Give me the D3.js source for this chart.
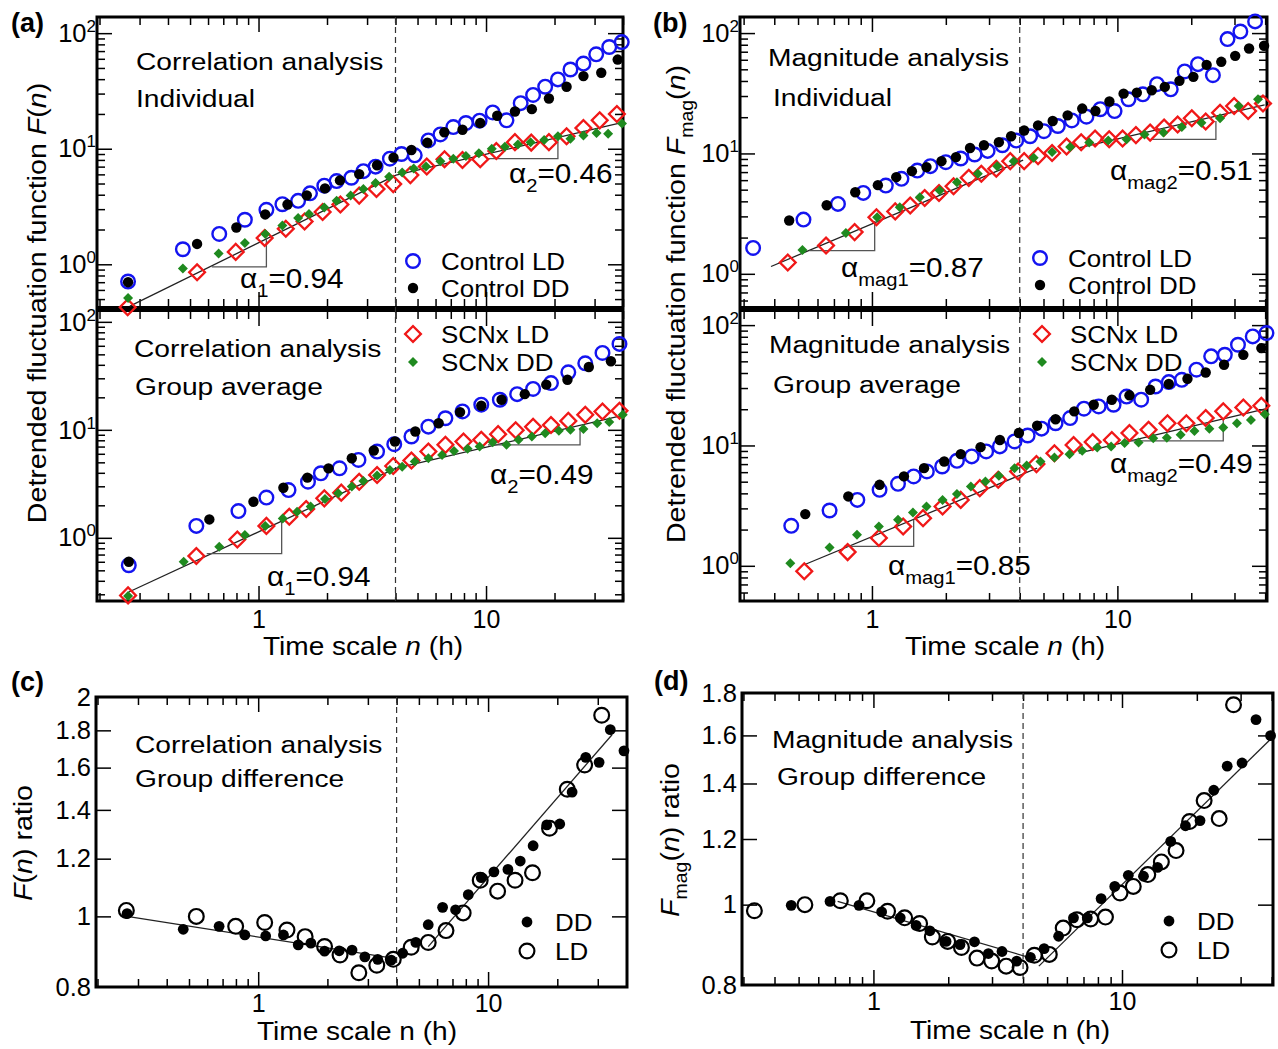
<!DOCTYPE html>
<html>
<head>
<meta charset="utf-8">
<title>DFA panels</title>
<script src="https://d3js.org/d3.v7.min.js"></script>
<style>
  html, body { margin: 0; background: white; }
  svg { display: block; }
</style>
</head>
<body>
<svg id="svg"></svg>
<script>
// ---------- data: [n (h), value] ----------
const aTopCtrlLD = [[0.267,0.71],[0.465,1.35],[0.672,1.83],[0.871,2.43],[1.083,2.96],[1.273,3.31],[1.493,3.54],[1.684,4.11],[1.946,4.79],[2.204,5.25],[2.56,5.61],[2.89,6.4],[3.27,7.0],[3.78,8.2],[4.25,9.0],[4.86,8.77],[5.58,11.8],[6.3,13.3],[7.18,15.4],[8.16,16.7],[9.37,17.5],[10.7,20.6],[12.3,17.6],[14.2,24.8],[16.1,29.2],[18.2,34.4],[20.7,39.8],[23.5,48.5],[26.8,54.6],[30.5,65.6],[34.8,75.9],[39.5,83.7]];
const aTopCtrlDD = [[0.267,0.70],[0.537,1.50],[0.799,2.08],[1.07,2.70],[1.341,3.29],[1.63,3.95],[1.96,4.54],[2.28,5.32],[2.77,6.03],[3.32,7.2],[3.92,8.37],[4.7,9.75],[5.52,11.3],[6.56,13.9],[7.88,14.6],[9.43,16.7],[11.2,19.3],[13.4,21.0],[15.9,22.0],[18.9,27.2],[22.6,34.4],[26.8,42.5],[32.1,45.4],[37.9,59.1]];
const aTopScnLD = [[0.266,0.425],[0.537,0.854],[0.794,1.28],[1.064,1.69],[1.318,2.03],[1.594,2.35],[1.913,2.83],[2.29,3.29],[2.77,3.93],[3.3,4.48],[3.91,4.94],[4.65,5.91],[5.49,7.01],[6.57,8.11],[7.88,8.0],[9.43,8.11],[11.1,9.55],[13.4,11.4],[15.8,11.3],[18.9,11.4],[22.6,12.8],[26.8,15.1],[31.6,17.6],[37.6,20.0]];
const aTopScnDD = [[0.267,0.51],[0.465,0.92],[0.668,1.24],[0.871,1.53],[1.071,1.83],[1.273,2.17],[1.493,2.51],[1.667,2.72],[1.946,3.1],[2.204,3.54],[2.54,3.93],[2.89,4.48],[3.27,5.04],[3.75,5.71],[4.28,6.22],[4.81,6.74],[5.45,7.01],[6.3,7.79],[7.18,8.21],[8.16,8.65],[9.3,9.12],[10.6,10.0],[12.1,10.4],[13.8,10.9],[15.7,11.4],[18.0,11.9],[20.7,12.8],[23.5,12.2],[26.8,13.0],[30.6,13.7],[34.4,13.5],[39.6,16.5]];

const aBotCtrlLD = [[0.269,0.557],[0.533,1.29],[0.816,1.77],[1.083,2.36],[1.355,2.77],[1.65,3.31],[1.88,3.96],[2.27,4.4],[2.75,5.26],[3.32,6.29],[3.95,7.36],[4.7,8.67],[5.58,10.7],[6.63,12.8],[7.88,14.8],[9.53,17.1],[11.5,19.0],[13.7,21.4],[16.1,23.9],[19.3,27.1],[23.0,34.1],[27.3,41.3],[32.5,51.5],[38.6,62.5]];
const aBotCtrlDD = [[0.269,0.60],[0.608,1.48],[0.95,2.16],[1.286,2.91],[1.64,3.61],[2.03,4.4],[2.57,5.46],[3.21,6.43],[3.98,7.8],[4.89,9.65],[6.19,11.5],[7.69,14.6],[9.53,16.7],[11.7,19.0],[14.8,21.4],[18.4,26.2],[22.8,29.1],[28.3,38.2],[35.4,43.2]];
const aBotScnLD = [[0.267,0.293],[0.533,0.68],[0.807,0.965],[1.083,1.29],[1.365,1.57],[1.62,1.85],[1.946,2.32],[2.31,2.62],[2.77,3.31],[3.32,3.82],[3.91,4.63],[4.7,5.19],[5.58,6.29],[6.63,7.26],[7.96,7.8],[9.53,8.08],[11.3,9.12],[13.5,9.93],[16.1,10.7],[19.3,11.1],[23.0,12.1],[27.3,13.8],[32.5,14.8],[38.6,15.0]];
const aBotScnDD = [[0.267,0.289],[0.469,0.60],[0.672,0.825],[0.871,1.06],[1.071,1.29],[1.278,1.51],[1.477,1.74],[1.695,1.95],[1.96,2.29],[2.24,2.58],[2.57,2.98],[2.89,3.36],[3.32,3.77],[3.78,4.25],[4.28,4.56],[4.86,5.08],[5.58,5.46],[6.41,5.86],[7.23,6.38],[8.3,6.67],[9.37,7.0],[10.7,7.68],[12.3,7.26],[13.9,8.08],[15.9,8.67],[18.2,9.31],[20.9,9.79],[23.5,10.0],[26.8,10.2],[30.8,11.5],[34.8,11.8],[39.9,13.8]];

const bTopCtrlLD = [[0.328,1.64],[0.526,2.82],[0.727,3.81],[0.922,4.7],[1.139,5.41],[1.319,6.15],[1.53,7.21],[1.73,7.84],[2.0,8.46],[2.3,9.08],[2.62,9.8],[2.96,10.5],[3.4,11.7],[3.87,12.8],[4.41,13.9],[5.02,15.3],[5.72,16.9],[6.52,18.8],[7.48,20.2],[8.52,23.3],[9.74,22.5],[11.1,28.2],[12.7,31.0],[14.5,37.6],[16.5,34.1],[18.8,48.0],[21.3,55.2],[24.5,44.7],[28.1,89.1],[31.7,103],[36.4,125]];
const bTopCtrlDD = [[0.46,2.77],[0.654,3.71],[0.855,4.76],[1.057,5.45],[1.256,6.35],[1.455,7.13],[1.668,7.7],[1.92,8.63],[2.2,9.32],[2.51,11.1],[2.86,11.7],[3.29,12.4],[3.69,13.9],[4.17,15.5],[4.75,17.1],[5.45,18.6],[6.27,20.7],[7.19,23.6],[8.14,22.5],[9.28,27.0],[10.6,31.4],[12.0,32.0],[13.8,33.5],[15.6,35.7],[17.9,40.1],[20.4,43.3],[23.1,54.4],[26.5,57.7],[30.2,64.7],[34.4,74.5],[39.6,78.4]];
const bTopScnLD = [[0.454,1.24],[0.65,1.72],[0.85,2.22],[1.043,2.95],[1.244,3.3],[1.432,3.69],[1.64,4.27],[1.876,4.7],[2.15,5.34],[2.48,6.27],[2.79,6.77],[3.21,7.45],[3.66,8.63],[4.17,8.63],[4.75,9.5],[5.42,10.1],[6.21,11.4],[7.12,12.4],[8.11,13.3],[9.26,13.1],[10.5,13.3],[11.9,14.2],[13.6,14.9],[15.5,16.4],[17.6,17.4],[20.1,19.6],[22.9,18.4],[26.2,21.8],[29.9,24.8],[34.1,22.5],[39.2,26.0]];
const bTopScnDD = [[0.521,1.58],[0.783,2.18],[1.05,2.95],[1.298,3.57],[1.567,4.33],[1.888,4.92],[2.22,5.77],[2.7,6.77],[3.24,7.84],[3.78,8.63],[4.56,9.2],[5.42,10.3],[6.42,11.3],[7.68,12.3],[9.18,12.8],[10.9,13.1],[12.9,14.4],[15.4,14.9],[18.3,16.6],[22.0,18.0],[26.2,19.6],[31.2,24.8],[37.4,28.2]];

const bBotCtrlLD = [[0.469,2.15],[0.672,2.88],[0.872,3.53],[1.074,4.28],[1.277,4.8],[1.479,5.53],[1.674,6.08],[1.932,6.69],[2.22,7.46],[2.55,8.11],[2.92,8.92],[3.32,9.82],[3.81,10.8],[4.31,12.1],[4.91,13.8],[5.6,15.3],[6.42,16.9],[7.31,20.2],[8.39,21.1],[9.65,21.8],[10.9,25.5],[12.5,24.0],[14.3,30.9],[16.2,33.6],[18.3,35.1],[21.0,42.6],[24.1,55.0],[27.4,56.7],[31.0,68.7],[35.6,80.6],[40.5,85.9]];
const bBotCtrlDD = [[0.535,2.69],[0.801,3.77],[1.074,4.71],[1.35,5.53],[1.63,6.48],[1.97,7.36],[2.3,8.47],[2.77,9.68],[3.32,11.1],[3.97,12.7],[4.71,14.6],[5.6,16.5],[6.67,19.2],[8.01,21.8],[9.49,24.0],[11.2,26.1],[13.6,29.0],[16.2,32.4],[19.3,35.8],[22.9,40.4],[27.2,46.8],[32.6,56.6],[38.6,64.4]];
const bBotScnLD = [[0.53,0.90],[0.796,1.3],[1.067,1.7],[1.34,2.12],[1.615,2.49],[1.94,3.11],[2.3,3.53],[2.75,4.42],[3.27,5.19],[3.94,6.08],[4.68,7.0],[5.54,8.63],[6.63,10.1],[7.93,10.7],[9.49,11.1],[11.2,12.7],[13.4,13.5],[16.0,15.3],[19.1,15.3],[22.9,16.9],[27.0,19.2],[32.6,20.7],[38.6,21.4]];
const bBotScnDD = [[0.465,1.05],[0.672,1.42],[0.869,1.81],[1.067,2.12],[1.277,2.41],[1.469,2.77],[1.668,3.11],[1.94,3.53],[2.22,3.96],[2.53,4.56],[2.9,5.02],[3.29,5.6],[3.81,6.48],[4.27,6.82],[4.86,7.36],[5.54,7.94],[6.38,8.47],[7.19,9.03],[8.28,9.62],[9.43,9.82],[10.7,10.5],[12.2,10.6],[14.0,11.5],[15.9,11.6],[18.1,12.3],[20.6,13.2],[23.7,13.8],[27.0,14.1],[30.7,15.3],[35.0,16.3],[39.9,18.2]];

const cDD = [[0.269,1.009],[0.472,0.960],[0.676,0.969],[0.875,0.943],[1.078,0.940],[1.288,0.943],[1.493,0.914],[1.695,0.919],[1.944,0.896],[2.25,0.897],[2.56,0.899],[2.91,0.880],[3.31,0.873],[3.79,0.871],[4.25,0.890],[4.85,0.921],[5.49,0.974],[6.34,1.029],[7.22,1.021],[8.2,1.071],[9.34,1.130],[10.6,1.151],[12.2,1.160],[13.8,1.191],[15.7,1.250],[18.0,1.335],[20.5,1.339],[23.2,1.481],[26.6,1.653],[30.4,1.627],[34.0,1.804],[39.0,1.687]];
const cLD = [[0.267,1.019],[0.538,1.000],[0.798,0.969],[1.067,0.981],[1.334,0.958],[1.6,0.938],[1.944,0.909],[2.27,0.885],[2.74,0.837],[3.28,0.857],[3.87,0.873],[4.63,0.907],[5.49,0.921],[6.56,0.956],[7.79,1.011],[9.24,1.121],[11.0,1.083],[13.1,1.121],[15.6,1.148],[18.5,1.321],[22.1,1.494],[26.3,1.613],[31.2,1.888]];
const dDD = [[0.467,0.998],[0.669,1.009],[0.875,0.998],[1.079,0.980],[1.282,0.964],[1.485,0.944],[1.687,0.930],[1.96,0.903],[2.23,0.895],[2.55,0.902],[2.9,0.873],[3.29,0.878],[3.77,0.855],[4.28,0.864],[4.86,0.885],[5.56,0.916],[6.38,0.964],[7.25,0.964],[8.24,1.017],[9.35,1.052],[10.6,1.085],[12.2,1.082],[13.9,1.109],[15.7,1.192],[18.0,1.245],[20.6,1.263],[23.4,1.374],[26.5,1.469],[30.4,1.482],[34.6,1.672],[39.6,1.599]];
const dLD = [[0.332,0.983],[0.53,1.0],[0.736,1.011],[0.941,1.011],[1.14,0.982],[1.336,0.964],[1.534,0.949],[1.726,0.914],[1.99,0.903],[2.26,0.888],[2.61,0.862],[2.99,0.855],[3.42,0.843],[3.89,0.840],[4.44,0.869],[5.1,0.871],[5.8,0.937],[6.59,0.959],[7.48,0.961],[8.58,0.966],[9.82,1.033],[11.1,1.052],[12.7,1.087],[14.4,1.126],[16.5,1.162],[18.7,1.260],[21.4,1.335],[24.6,1.270],[28.1,1.742]];

// fitted power-law segments (end points) and slope triangles
const aTopFits = [[[0.272,0.434],[4.02,5.91]], [[4.02,5.91],[39.9,16.9]]];
const aTopTris = [[[0.623,0.95],[1.083,0.95],[1.083,1.66]], [[10.2,8.2],[20.7,8.2],[20.7,12.6]]];
const aBotFits = [[[0.269,0.315],[4.0,4.4]], [[4.0,4.4],[39.9,13.6]]];
const aBotTris = [[[0.592,0.715],[1.264,0.715],[1.264,1.51]], [[10.2,7.26],[25.9,7.26],[25.9,10.4]]];
const bTopFits = [[[0.388,1.15],[4.13,8.8]], [[6.96,11.1],[39.8,25.3]]];
const bTopTris = [[[0.556,1.56],[1.026,1.56],[1.026,2.75]], [[13.8,13.1],[25.2,13.1],[25.2,18.6]]];
const bBotFits = [[[0.53,1.02],[4.71,6.48]], [[6.96,8.63],[40.5,20.2]]];
const bBotTris = [[[0.77,1.45],[1.479,1.45],[1.479,2.41]], [[10.5,10.9],[27.0,10.9],[27.0,16.3]]];
const cFits = [[[0.269,1.0],[3.9,0.876]], [[5.49,0.909],[34.6,1.775]]];
const dFits = [[[0.718,1.009],[4.56,0.858]], [[4.63,0.843],[39.3,1.58]]];

const crossover = 4;              // dashed line, hours
const xLabelTicks = [1, 10];
const decadeTicks = [1, 10, 100];
const cRatioTicks = [0.8, 1, 1.2, 1.4, 1.6, 1.8, 2];
const dRatioTicks = [0.8, 1, 1.2, 1.4, 1.6, 1.8];

// ---------- drawing ----------
const FONT = "Liberation Sans, Arial, Helvetica, sans-serif";
const BLUE = "#1414f0", RED = "#f01818", GREEN = "#1f8a1f";

const svg = d3.select("#svg")
  .attr("width", 1278)
  .attr("height", 1049)
  .attr("font-family", FONT);

svg.append("rect").attr("width", 1278).attr("height", 1049).attr("fill", "white");

function rich(x, y, parts, o = {}) {
  const size = o.size || 25;
  const tf = `translate(${x},${y})` + (o.rot ? ` rotate(${o.rot})` : "") + ` scale(${o.sx || 1},1)`;
  const t = svg.append("text")
    .attr("transform", tf)
    .attr("font-size", size)
    .attr("text-anchor", o.anchor || "start")
    .attr("font-weight", o.bold ? "bold" : null)
    .attr("fill", "#000");
  let shift = 0;
  parts.forEach(p => {
    if (typeof p === "string") p = {t: p};
    const s = t.append("tspan").text(p.t);
    const want = p.sub ? size * 0.32 : 0;
    if (want !== shift) { s.attr("dy", want - shift); shift = want; }
    if (p.sub) s.attr("font-size", size * 0.68);
    if (p.it) s.attr("font-style", "italic");
  });
  return t;
}

const isDecade = v => Math.abs(Math.log10(v) - Math.round(Math.log10(v))) < 1e-9;

function tickSet(g, fn, scale, vals, len, tr) {
  const a = g.append("g").attr("transform", tr)
    .call(fn(scale).tickValues(vals).tickSize(-len).tickFormat(""));
  a.select(".domain").remove();
  a.selectAll(".tick line").attr("stroke", "#000").attr("stroke-width", 1.5);
}

function frameTicks(g, x, y, box, yMajorList) {
  const xt = x.ticks();
  const xMaj = xt.filter(isDecade), xMin = xt.filter(v => !isDecade(v));
  let yMaj, yMin;
  if (yMajorList) { yMaj = yMajorList; yMin = []; }
  else { const yt = y.ticks(); yMaj = yt.filter(isDecade); yMin = yt.filter(v => !isDecade(v)); }
  [[xMaj, 15], [xMin, 8]].forEach(([v, l]) => {
    tickSet(g, d3.axisBottom, x, v, l, `translate(0,${box.b})`);
    tickSet(g, d3.axisTop, x, v, l, `translate(0,${box.t})`);
  });
  [[yMaj, 15], [yMin, 8]].forEach(([v, l]) => {
    tickSet(g, d3.axisLeft, y, v, l, `translate(${box.l},0)`);
    tickSet(g, d3.axisRight, y, v, l, `translate(${box.r},0)`);
  });
}

function xLabels(g, x, box, pad) {
  const a = g.append("g").attr("transform", `translate(0,${box.b})`)
    .call(d3.axisBottom(x).tickValues(xLabelTicks).tickSize(0).tickPadding(pad).tickFormat(d3.format("~g")));
  a.select(".domain").remove();
  a.attr("font-size", 25).attr("font-family", FONT);
}

function yPowLabels(g, y, box) {
  const vals = decadeTicks.filter(v => v >= y.domain()[0] && v <= y.domain()[1]);
  const a = g.append("g").attr("transform", `translate(${box.l},0)`)
    .call(d3.axisLeft(y).tickValues(vals).tickSize(0).tickPadding(1).tickFormat(() => "10"));
  a.select(".domain").remove();
  a.attr("font-size", 25.5).attr("font-family", FONT);
  a.selectAll(".tick text").append("tspan")
    .attr("dy", -10).attr("font-size", 17)
    .text(d => Math.round(Math.log10(d)));
}

function yRatioLabels(g, y, box, vals) {
  const a = g.append("g").attr("transform", `translate(${box.l},0)`)
    .call(d3.axisLeft(y).tickValues(vals).tickSize(0).tickPadding(5).tickFormat(d3.format("~g")));
  a.select(".domain").remove();
  a.attr("font-size", 25.5).attr("font-family", FONT);
}

function lineSegs(g, segs, x, y, color, w) {
  const line = d3.line().x(d => x(d[0])).y(d => y(d[1]));
  g.append("g").selectAll("path").data(segs).join("path")
    .attr("d", line).attr("fill", "none").attr("stroke", color).attr("stroke-width", w);
}

function openCircles(g, data, x, y, color, r, w) {
  g.append("g").selectAll("circle").data(data).join("circle")
    .attr("cx", d => x(d[0])).attr("cy", d => y(d[1])).attr("r", r)
    .attr("fill", "none").attr("stroke", color).attr("stroke-width", w);
}
function dots(g, data, x, y, color, r) {
  g.append("g").selectAll("circle").data(data).join("circle")
    .attr("cx", d => x(d[0])).attr("cy", d => y(d[1])).attr("r", r).attr("fill", color);
}
function diamonds(g, data, x, y, size, fill, stroke, w) {
  const sym = d3.symbol(d3.symbolSquare, size);
  g.append("g").selectAll("path").data(data).join("path")
    .attr("d", sym)
    .attr("transform", d => `translate(${x(d[0])},${y(d[1])}) rotate(45)`)
    .attr("fill", fill).attr("stroke", stroke).attr("stroke-width", w);
}

const MK = {ldR: 6.8, ldW: 2.4, ddR: 5.2, scnLD: 125, scnDD: 50};

function fourSeries(g, x, y, s) {
  diamonds(g, s.scnLD, x, y, MK.scnLD, "none", RED, 2.3);
  diamonds(g, s.scnDD, x, y, MK.scnDD, GREEN, "none", 0);
  openCircles(g, s.ctrlLD, x, y, BLUE, MK.ldR, MK.ldW);
  dots(g, s.ctrlDD, x, y, "#000", MK.ddR);
}

// ----- (a)/(b) double panels -----
function doublePanel(o) {
  const g = svg.append("g");
  const x = d3.scaleLog().domain(o.xDom).range([o.l, o.r]);
  const yT = d3.scaleLog().domain(o.yTopDom).range([307, 17]);
  const yB = d3.scaleLog().domain(o.yBotDom).range([601, 311]);
  const boxT = {l: o.l, r: o.r, t: 17, b: 307};
  const boxB = {l: o.l, r: o.r, t: 311, b: 601};
  frameTicks(g, x, yT, boxT);
  frameTicks(g, x, yB, boxB);
  g.append("rect").attr("x", o.l).attr("y", 17).attr("width", o.r - o.l).attr("height", 584)
    .attr("fill", "none").attr("stroke", "#000").attr("stroke-width", 3);
  g.append("line").attr("x1", o.l).attr("x2", o.r).attr("y1", 309).attr("y2", 309)
    .attr("stroke", "#000").attr("stroke-width", 6);
  g.append("line").attr("x1", x(crossover)).attr("x2", x(crossover)).attr("y1", 17).attr("y2", 601)
    .attr("stroke", "#333").attr("stroke-width", 1.2).attr("stroke-dasharray", "6,4");
  xLabels(g, x, boxB, 9);
  yPowLabels(g, yT, boxT);
  yPowLabels(g, yB, boxB);
  lineSegs(g, o.topFits, x, yT, "#222", 1.3);
  lineSegs(g, o.topTris, x, yT, "#555", 1.3);
  lineSegs(g, o.botFits, x, yB, "#222", 1.3);
  lineSegs(g, o.botTris, x, yB, "#555", 1.3);
  fourSeries(g, x, yT, o.top);
  fourSeries(g, x, yB, o.bot);
}

doublePanel({
  l: 97, r: 623, xDom: [0.195, 40], yTopDom: [0.427, 138], yBotDom: [0.26, 126],
  top: {ctrlLD: aTopCtrlLD, ctrlDD: aTopCtrlDD, scnLD: aTopScnLD, scnDD: aTopScnDD},
  bot: {ctrlLD: aBotCtrlLD, ctrlDD: aBotCtrlDD, scnLD: aBotScnLD, scnDD: aBotScnDD},
  topFits: aTopFits, topTris: aTopTris, botFits: aBotFits, botTris: aBotTris
});
doublePanel({
  l: 740, r: 1267, xDom: [0.29, 40.7], yTopDom: [0.53, 136], yBotDom: [0.51, 131],
  top: {ctrlLD: bTopCtrlLD, ctrlDD: bTopCtrlDD, scnLD: bTopScnLD, scnDD: bTopScnDD},
  bot: {ctrlLD: bBotCtrlLD, ctrlDD: bBotCtrlDD, scnLD: bBotScnLD, scnDD: bBotScnDD},
  topFits: bTopFits, topTris: bTopTris, botFits: bBotFits, botTris: bBotTris
});

// ----- (c)/(d) ratio panels -----
function ratioPanel(o) {
  const g = svg.append("g");
  const box = {l: o.l, r: o.r, t: o.t, b: o.b};
  const x = d3.scaleLog().domain(o.xDom).range([o.l, o.r]);
  const y = d3.scaleLog().domain(o.yDom).range([o.b, o.t]);
  frameTicks(g, x, y, box, o.yTicks.slice(1, -1));
  g.append("rect").attr("x", o.l).attr("y", o.t).attr("width", o.r - o.l).attr("height", o.b - o.t)
    .attr("fill", "none").attr("stroke", "#000").attr("stroke-width", 3);
  g.append("line").attr("x1", x(crossover)).attr("x2", x(crossover)).attr("y1", o.t).attr("y2", o.b)
    .attr("stroke", "#333").attr("stroke-width", 1.2).attr("stroke-dasharray", "6,4");
  xLabels(g, x, box, 7);
  yRatioLabels(g, y, box, o.yTicks);
  lineSegs(g, o.fits, x, y, "#222", 1.3);
  openCircles(g, o.ld, x, y, "#000", 7.4, 2.2);
  dots(g, o.dd, x, y, "#000", 5.4);
}

ratioPanel({l: 96, r: 627, t: 697, b: 987, xDom: [0.197, 40.2], yDom: [0.8, 2],
  yTicks: cRatioTicks, fits: cFits, ld: cLD, dd: cDD});
ratioPanel({l: 742, r: 1273, t: 693, b: 985, xDom: [0.296, 40.5], yDom: [0.8, 1.8],
  yTicks: dRatioTicks, fits: dFits, ld: dLD, dd: dDD});

// ---------- texts ----------
const IN = {size: 24.5, sx: 1.15};
rich(136, 70, ["Correlation analysis"], IN);
rich(136, 107, ["Individual"], IN);
rich(134, 357, ["Correlation analysis"], IN);
rich(135, 395, ["Group average"], IN);
rich(768, 66, ["Magnitude analysis"], IN);
rich(773, 106, ["Individual"], IN);
rich(769, 353, ["Magnitude analysis"], IN);
rich(773, 393, ["Group average"], IN);
rich(135, 753, ["Correlation analysis"], IN);
rich(135, 787, ["Group difference"], IN);
rich(772, 748, ["Magnitude analysis"], IN);
rich(777, 785, ["Group difference"], IN);

const AL = {size: 27, sx: 1.1};
rich(240, 288, ["α", {t: "1", sub: true}, "=0.94"], AL);
rich(509, 183, ["α", {t: "2", sub: true}, "=0.46"], AL);
rich(267, 586, ["α", {t: "1", sub: true}, "=0.94"], AL);
rich(490, 484, ["α", {t: "2", sub: true}, "=0.49"], AL);
rich(841, 277, ["α", {t: "mag1", sub: true}, "=0.87"], AL);
rich(1110, 180, ["α", {t: "mag2", sub: true}, "=0.51"], AL);
rich(888, 575, ["α", {t: "mag1", sub: true}, "=0.85"], AL);
rich(1110, 473, ["α", {t: "mag2", sub: true}, "=0.49"], AL);

// legends
const LG = {size: 24.5, sx: 1.06};
function legendItem(cx, cy, kind, label) {
  if (kind === "ctrlLD") svg.append("circle").attr("cx", cx).attr("cy", cy).attr("r", MK.ldR)
    .attr("fill", "none").attr("stroke", BLUE).attr("stroke-width", MK.ldW);
  if (kind === "ctrlDD") svg.append("circle").attr("cx", cx).attr("cy", cy).attr("r", MK.ddR).attr("fill", "#000");
  if (kind === "scnLD") svg.append("path").attr("d", d3.symbol(d3.symbolSquare, MK.scnLD)())
    .attr("transform", `translate(${cx},${cy}) rotate(45)`).attr("fill", "none").attr("stroke", RED).attr("stroke-width", 2.3);
  if (kind === "scnDD") svg.append("path").attr("d", d3.symbol(d3.symbolSquare, MK.scnDD)())
    .attr("transform", `translate(${cx},${cy}) rotate(45)`).attr("fill", GREEN);
  if (kind === "LD") svg.append("circle").attr("cx", cx).attr("cy", cy).attr("r", 7.4)
    .attr("fill", "none").attr("stroke", "#000").attr("stroke-width", 2.2);
  if (kind === "DD") svg.append("circle").attr("cx", cx).attr("cy", cy).attr("r", 5.4).attr("fill", "#000");
  rich(cx + 28, cy + 9, [label], LG);
}
legendItem(413, 261, "ctrlLD", "Control LD");
legendItem(413, 288, "ctrlDD", "Control DD");
legendItem(413, 334, "scnLD", "SCNx LD");
legendItem(413, 362, "scnDD", "SCNx DD");
legendItem(1040, 258, "ctrlLD", "Control LD");
legendItem(1040, 285, "ctrlDD", "Control DD");
legendItem(1042, 334, "scnLD", "SCNx LD");
legendItem(1042, 362, "scnDD", "SCNx DD");
legendItem(527, 922, "DD", "DD");
legendItem(527, 951, "LD", "LD");
legendItem(1169, 921, "DD", "DD");
legendItem(1169, 950, "LD", "LD");

// axis titles
const AX = {size: 26, sx: 1.08, anchor: "middle"};
rich(363, 655, ["Time scale ", {t: "n", it: true}, " (h)"], AX);
rich(1005, 655, ["Time scale ", {t: "n", it: true}, " (h)"], AX);
rich(357, 1040, ["Time scale n (h)"], AX);
rich(1010, 1039, ["Time scale n (h)"], AX);

const YT = {size: 26, sx: 1.1, anchor: "middle", rot: -90};
rich(46, 303, ["Detrended fluctuation function ", {t: "F", it: true}, "(", {t: "n", it: true}, ")"], YT);
rich(685, 304, ["Detrended fluctuation function ", {t: "F", it: true}, {t: "mag", sub: true}, "(", {t: "n", it: true}, ")"], YT);
rich(32, 843, [{t: "F", it: true}, "(", {t: "n", it: true}, ") ratio"], YT);
rich(679, 840, [{t: "F", it: true}, {t: "mag", sub: true}, "(", {t: "n", it: true}, ") ratio"], YT);

// panel letters
const PL = {size: 27, bold: true};
rich(11, 32, ["(a)"], PL);
rich(653, 32, ["(b)"], PL);
rich(11, 691, ["(c)"], PL);
rich(654, 690, ["(d)"], PL);
</script>
</body>
</html>
